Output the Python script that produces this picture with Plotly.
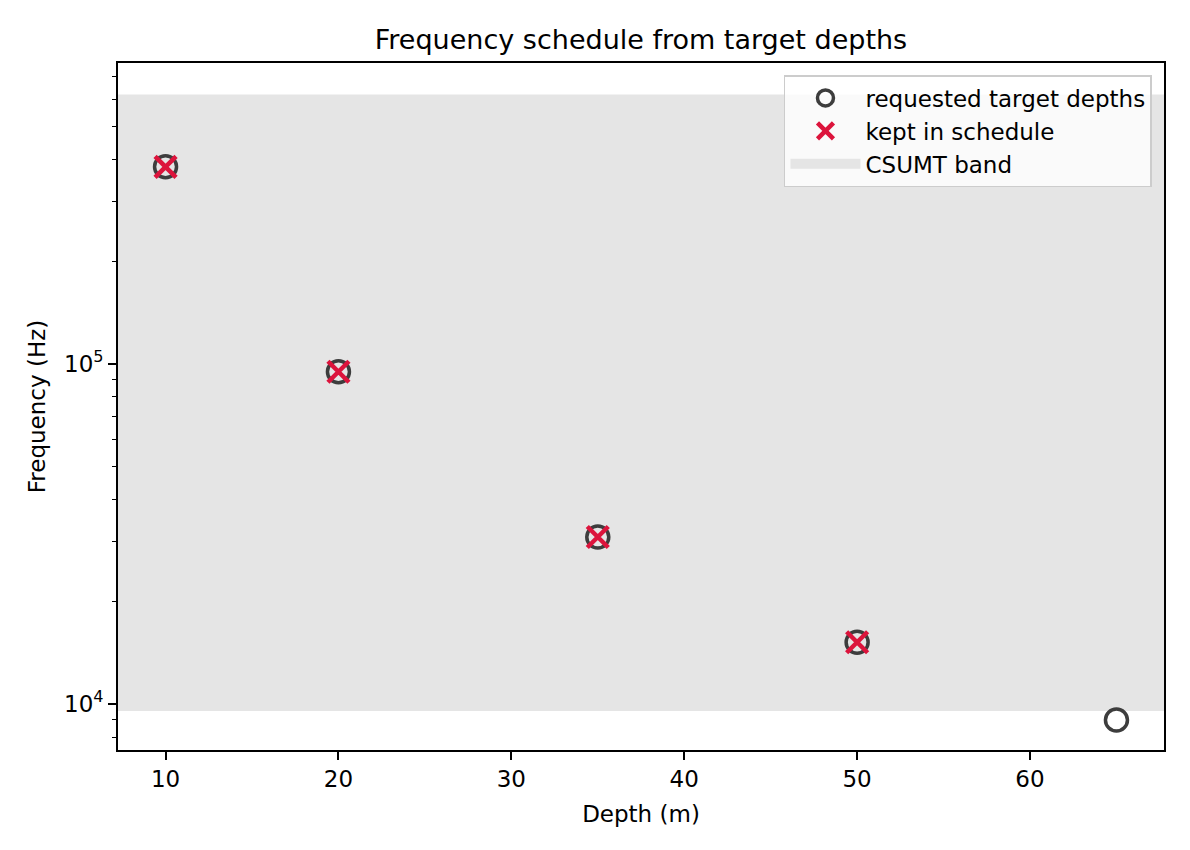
import plotly.graph_objects as go

# requested target depths (m) and the frequencies they map to (Hz)
DEPTHS = [10, 20, 35, 50, 65]
FREQS = [3.80e5, 9.49e4, 3.10e4, 1.52e4, 8.98e3]

# the subset that survived into the schedule
KEPT_DEPTHS = [10, 20, 35, 50]
KEPT_FREQS = [3.80e5, 9.49e4, 3.10e4, 1.52e4]

# CSUMT usable band (Hz)
BAND_LO = 9.55e3
BAND_HI = 6.2e5

X_TICKS = [10, 20, 30, 40, 50, 60]
Y_TICKS = [1e4, 1e5]
Y_TICK_TEXT = ["10<sup>4</sup>", "10<sup>5</sup>"]
Y_MINOR = [8e3, 9e3, 2e4, 3e4, 4e4, 5e4, 6e4, 7e4, 8e4, 9e4,
           2e5, 3e5, 4e5, 5e5, 6e5, 7e5]

FONT = "DejaVu Sans"
BAND_COLOR = "#e5e5e5"

fig = go.Figure()

fig.add_trace(
    go.Scatter(
        x=DEPTHS, y=FREQS, mode="markers", name="requested target depths",
        marker=dict(symbol="circle-open", size=22, color="#3d3d3d",
                    line=dict(width=3.5, color="#3d3d3d")),
    )
)
fig.add_trace(
    go.Scatter(
        x=KEPT_DEPTHS, y=KEPT_FREQS, mode="markers", name="kept in schedule",
        marker=dict(symbol="x-thin", size=21, color="crimson",
                    line=dict(width=4.5, color="crimson")),
    )
)
# legend proxy for the band (the band itself is a layout shape)
fig.add_trace(
    go.Scatter(
        x=[None], y=[None], mode="lines", name="CSUMT band",
        line=dict(color=BAND_COLOR, width=18),
    )
)

fig.add_shape(
    type="rect", xref="paper", x0=0, x1=1, yref="y",
    y0=BAND_LO, y1=BAND_HI,
    fillcolor=BAND_COLOR, line_width=0, layer="below",
)

axis_common = dict(
    showline=True, mirror=True, linecolor="black", linewidth=1.7,
    ticks="outside", ticklen=8, tickwidth=1.7, tickcolor="black",
    showgrid=False, zeroline=False,
    tickfont=dict(family=FONT, size=23, color="black"),
    title_font=dict(family=FONT, size=23, color="black"),
)

fig.update_layout(
    width=1182, height=842,
    paper_bgcolor="white", plot_bgcolor="white",
    margin=dict(l=110, r=26, t=55, b=100),
    font=dict(family=FONT, color="black"),
    title=dict(text="Frequency schedule from target depths",
               font=dict(family=FONT, size=27, color="black"),
               x=0.5, xref="paper", xanchor="center",
               y=1 - 32 / 842, yref="container", yanchor="middle"),
    xaxis=dict(range=[7.25, 67.75], tickvals=X_TICKS,
               title=dict(text="Depth (m)", standoff=14), **axis_common),
    yaxis=dict(type="log", range=[3.865, 5.885], tickvals=Y_TICKS,
               ticktext=Y_TICK_TEXT,
               title=dict(text="Frequency (Hz)", standoff=12),
               minor=dict(tickvals=Y_MINOR, ticks="outside", ticklen=4.5,
                          tickwidth=1.3, tickcolor="black"),
               **axis_common),
    showlegend=True,
    legend=dict(x=0.9885, y=0.9825, xanchor="right", yanchor="top",
                bgcolor="rgba(255,255,255,0.8)", bordercolor="#cccccc",
                borderwidth=1.5,
                font=dict(family=FONT, size=23, color="black"),
                itemwidth=70, tracegroupgap=0),
)

fig.write_html("out.html")
